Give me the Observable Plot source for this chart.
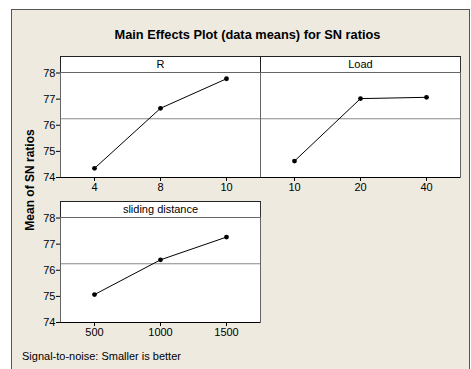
<!DOCTYPE html>
<html><head><meta charset="utf-8">
<script src="https://cdn.jsdelivr.net/npm/d3@7"></script>
<script src="https://cdn.jsdelivr.net/npm/@observablehq/plot@0.6"></script>
<style>
body{margin:0;background:#fff;}
#fig{position:relative;width:471px;height:369px;overflow:hidden;font-family:"Liberation Sans",Arial,sans-serif;color:#000;}
#frame{position:absolute;left:11px;top:9px;width:459px;height:380px;background:#EEEAE0;border-left:1px solid #555;border-top:1px solid #555;border-right:1px solid #555;box-sizing:border-box;}
.abs{position:absolute;}
#title{left:0;width:495px;top:27px;text-align:center;font-weight:bold;font-size:12.8px;}
.strip{background:#fff;border-top:1px solid #222;border-left:1px solid #222;border-right:1px solid #333;box-sizing:border-box;text-align:center;font-size:11px;line-height:15px;height:16px;}
#ylab{left:30px;top:180px;width:0;height:0;}
#ylab span{position:absolute;left:0;top:0;transform:translate(-50%,-50%) rotate(-90deg);white-space:nowrap;font-weight:bold;font-size:12px;}
#cap{left:22px;top:350px;font-size:11px;white-space:nowrap;}
</style></head>
<body>
<div id="fig">
  <div id="frame"></div>
  <div id="title" class="abs">Main Effects Plot (data means) for SN ratios</div>
  <div id="ylab" class="abs"><span>Mean of SN ratios</span></div>
  <div id="cap" class="abs">Signal-to-noise: Smaller is better</div>
</div>
<script>
const rLevels = ["4", "8", "10"];
const rMeans = [74.35, 76.65, 77.78];
const loadLevels = ["10", "20", "40"];
const loadMeans = [74.63, 77.02, 77.07];
const distLevels = ["500", "1000", "1500"];
const distMeans = [75.07, 76.40, 77.27];
const grandMean = 76.25;
const yTicks = [74, 75, 76, 77, 78];
const yDomain = [74, 78.02];
const factorNames = ["R", "Load", "sliding distance"];

const fig = document.getElementById("fig");

function panel(name, levels, means, left, top, showY) {
  const ML = 30, MR = 2, MT = 2, MB = 22;
  const data = levels.map((l, i) => ({level: l, mean: means[i]}));
  const chart = Plot.plot({
    width: 200 + ML + MR,
    height: 105 + MT + MB,
    marginLeft: ML, marginRight: MR, marginTop: MT, marginBottom: MB,
    style: {background: "transparent", fontFamily: '"Liberation Sans", Arial, sans-serif', fontSize: "11px", color: "#000", overflow: "visible"},
    x: {type: "point", domain: levels, padding: 0.5, label: null, axis: null},
    y: {domain: yDomain, label: null, axis: null},
    marks: [
      Plot.frame({fill: "white", stroke: "none"}),
      Plot.ruleY([grandMean], {stroke: "#888", strokeWidth: 1.2}),
      Plot.line(data, {x: "level", y: "mean", stroke: "#000", strokeWidth: 1}),
      Plot.dot(data, {x: "level", y: "mean", r: 2.4, fill: "#000", stroke: "none"}),
      Plot.frame({stroke: "#666"}),
      Plot.ruleY([yDomain[0]], {stroke: "#000"}),
      Plot.axisX({tickSize: 4, tickPadding: 2, label: null, fontSize: 11}),
      showY ? Plot.axisY({ticks: yTicks, tickFormat: "d", tickSize: 4, tickPadding: 1, label: null, fontSize: 11}) : null
    ]
  });
  chart.style.position = "absolute";
  chart.style.left = (left - ML) + "px";
  chart.style.top = (top - MT) + "px";
  fig.appendChild(chart);
  const strip = document.createElement("div");
  strip.className = "abs strip";
  strip.style.left = left + "px";
  strip.style.top = (top - 16) + "px";
  strip.style.width = "201px";
  strip.textContent = name;
  fig.appendChild(strip);
}

panel(factorNames[0], rLevels, rMeans, 60, 72, true);
panel(factorNames[1], loadLevels, loadMeans, 260, 72, false);
panel(factorNames[2], distLevels, distMeans, 60, 217, true);
</script>
</body></html>
